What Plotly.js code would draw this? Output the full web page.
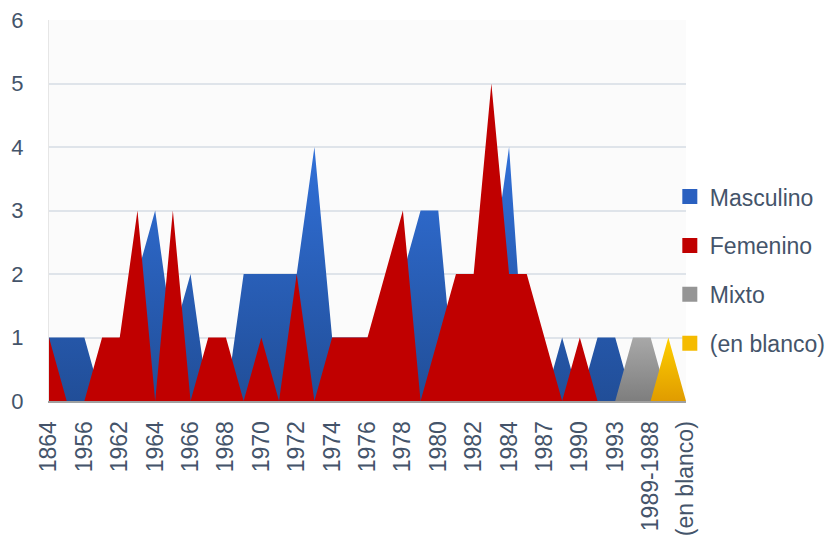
<!DOCTYPE html>
<html>
<head>
<meta charset="utf-8">
<script src="https://cdn.plot.ly/plotly-3.0.1.min.js"></script>
<style>
  html, body { margin: 0; padding: 0; background: #ffffff; }
  #chart { width: 833px; height: 539px; }
</style>
</head>
<body>
<div id="chart"></div>
<script>
// Categories (x axis), in chart order
const categories = ['1864','1955','1956','1961','1962','1963','1964','1965','1966','1967',
  '1968','1969','1970','1971','1972','1973','1974','1975','1976','1977',
  '1978','1979','1980','1981','1982','1983','1984','1985','1987','1988',
  '1990','1991','1993','1994','1989-1988','1995','(en blanco)'];

// Series values
const masculino = [1,1,1,0,1,2,3,1,2,0,0,2,2,2,2,4,1,1,1,1,2,3,3,0,1,2,4,0,0,1,0,1,1,0,0,0,0];
const femenino  = [1,0,0,1,1,3,0,3,0,1,1,0,1,0,2,0,1,1,1,2,3,0,1,2,2,5,2,2,1,0,1,0,0,0,0,0,0];
const mixto     = [0,0,0,0,0,0,0,0,0,0,0,0,0,0,0,0,0,0,0,0,0,0,0,0,0,0,0,0,0,0,0,0,0,1,1,0,0];
const enBlanco  = [0,0,0,0,0,0,0,0,0,0,0,0,0,0,0,0,0,0,0,0,0,0,0,0,0,0,0,0,0,0,0,0,0,0,0,1,0];

// Tick labels shown (every other category)
const tickLabels = ['1864','1956','1962','1964','1966','1968','1970','1972','1974','1976',
  '1978','1980','1982','1984','1987','1990','1993','1989-1988','(en blanco)'];

const seriesNames = ['Masculino','Femenino','Mixto','(en blanco)'];
const seriesData = [masculino, femenino, mixto, enBlanco];
const gradients = [
  [[0,'#214e98'],[1,'#3170d8']],
  [[0,'#c00000'],[1,'#c00000']],
  [[0,'#7e7e7e'],[1,'#a8a8a8']],
  [[0,'#e09c00'],[1,'#ffcf00']]
];
const gradStops = [4, 5, 1, 1];
const legendColors = ['#2a60c0','#c00000','#959595','#f5bb00'];

const traces = [];
seriesData.forEach((vals, i) => {
  traces.push({
    type: 'scatter',
    x: categories,
    y: vals,
    name: seriesNames[i],
    mode: 'none',
    fill: 'tozeroy',
    fillgradient: { type: 'vertical', colorscale: gradients[i], start: 0, stop: gradStops[i] },
    line: { width: 0 },
    showlegend: false,
    hoverinfo: 'x+y+name'
  });
});
seriesNames.forEach((nm, i) => {
  traces.push({
    type: 'scatter',
    x: [null], y: [null],
    name: nm,
    mode: 'markers',
    marker: { symbol: 'square', size: 15, color: legendColors[i] },
    legendgroup: 'g' + i,
    showlegend: true
  });
});

const fontFam = 'Liberation Sans, Arial, sans-serif';
const layout = {
  width: 833, height: 539,
  margin: { l: 49, r: 147, t: 20, b: 138, autoexpand: false },
  paper_bgcolor: '#ffffff',
  plot_bgcolor: '#fbfbfb',
  showlegend: true,
  legend: {
    x: 0.9746, xanchor: 'left', y: 0.593, yanchor: 'top',
    font: { family: fontFam, size: 23, color: '#44546a' },
    tracegroupgap: 16,
    traceorder: 'grouped',
    bgcolor: 'rgba(0,0,0,0)'
  },
  xaxis: {
    type: 'category',
    categoryorder: 'array',
    categoryarray: categories,
    range: [0, categories.length - 1],
    tickmode: 'array',
    tickvals: tickLabels,
    ticktext: tickLabels,
    tickangle: -90,
    ticks: 'outside', ticklen: 9, tickcolor: 'rgba(0,0,0,0)',
    tickfont: { family: fontFam, size: 23, color: '#44546a' },
    showgrid: false,
    showline: true, linecolor: '#a0a0a0', linewidth: 2,
    zeroline: false
  },
  yaxis: {
    range: [0, 6],
    tickvals: [0,1,2,3,4,5,6],
    ticks: 'outside', ticklen: 20, tickcolor: 'rgba(0,0,0,0)',
    tickfont: { family: fontFam, size: 22, color: '#44546a' },
    showgrid: true, gridcolor: '#dfe4ea', gridwidth: 2,
    showline: true, linecolor: '#e6e6e6', linewidth: 1,
    zeroline: false
  }
};

Plotly.newPlot('chart', traces, layout, { staticPlot: true, displayModeBar: false });
</script>
</body>
</html>
